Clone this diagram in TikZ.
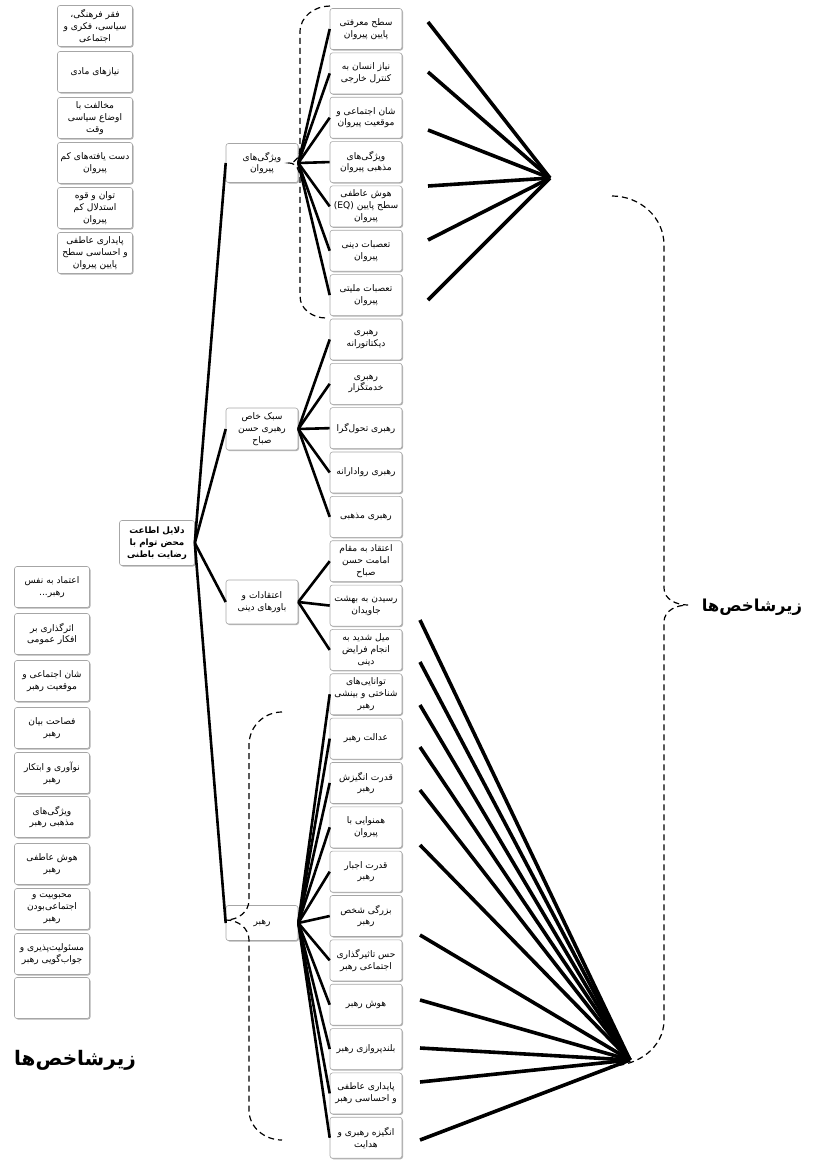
\documentclass[tikz,border=0pt]{standalone}
\usepackage{fontspec}
\usetikzlibrary{shadows}
\newfontfamily\fa[Script=Arabic]{DejaVu Sans}
\TeXXeTstate=1
\newcommand\RL[1]{\beginR #1\endR}
\begin{document}
\begin{tikzpicture}[x=1pt,y=-1pt,
  box/.style={rectangle, rounded corners=2.5pt, draw=gray!70, line width=0.6pt, fill=white,
    minimum width=72pt, minimum height=41pt, align=center, inner sep=1pt,
    font=\fa\fontsize{9.1}{11.8}\selectfont,
    drop shadow={shadow xshift=1pt, shadow yshift=-1pt, fill=gray!60, opacity=1}},
  lbox/.style={box, minimum width=75pt},
  rootbox/.style={box, minimum width=75pt, minimum height=45pt, font=\fa\bfseries\fontsize{8.8}{11.8}\selectfont},
  conn/.style={line width=2.6pt, black},
  fan/.style={line width=3.6pt, black},
  brace/.style={dashed, line width=1.2pt, dash pattern=on 6pt off 4pt},
  lbl/.style={font=\fa\bfseries\fontsize{16.5}{19}\selectfont}
]
\useasboundingbox (0,0) rectangle (816,1160);

% left top column
\node[lbox] (lt1) at (95,26) {\RL{فقر فرهنگی،}\\\RL{سیاسی، فکری و}\\\RL{اجتماعی}};
\node[lbox] (lt2) at (95,72) {\RL{نیازهای مادی}};
\node[lbox] (lt3) at (95,118) {\RL{مخالفت با}\\\RL{اوضاع سیاسی}\\\RL{وقت}};
\node[lbox] (lt4) at (95,163) {\RL{دست یافته‌های کم}\\\RL{پیروان}};
\node[lbox] (lt5) at (95,208) {\RL{توان و قوه}\\\RL{استدلال کم}\\\RL{پیروان}};
\node[lbox] (lt6) at (95,253) {\RL{پایداری عاطفی}\\\RL{و احساسی سطح}\\\RL{پایین پیروان}};

% left bottom column
\node[lbox] (lb1) at (52,587) {\RL{اعتماد به نفس}\\\RL{رهبر...}};
\node[lbox] (lb2) at (52,634) {\RL{اثرگذاری بر}\\\RL{افکار عمومی}};
\node[lbox] (lb3) at (52,681) {\RL{شان اجتماعی و}\\\RL{موقعیت رهبر}};
\node[lbox] (lb4) at (52,728) {\RL{فصاحت بیان}\\\RL{رهبر}};
\node[lbox] (lb5) at (52,773) {\RL{نوآوری و ابتکار}\\\RL{رهبر}};
\node[lbox] (lb6) at (52,817) {\RL{ویژگی‌های}\\\RL{مذهبی رهبر}};
\node[lbox] (lb7) at (52,864) {\RL{هوش عاطفی}\\\RL{رهبر}};
\node[lbox] (lb8) at (52,909) {\RL{محبوبیت و}\\\RL{اجتماعی‌بودن}\\\RL{رهبر}};
\node[lbox] (lb9) at (52,954) {\RL{مسئولیت‌پذیری و}\\\RL{جواب‌گویی رهبر}};
\node[lbox] (lb10) at (52,998) {};

% root and middle nodes
\node[rootbox] (root) at (157,543) {\RL{دلایل اطاعت}\\\RL{محض توام با}\\\RL{رضایت باطنی}};
\node[box, minimum height=39pt] (m1) at (262,163) {\RL{ویژگی‌های}\\\RL{پیروان}};
\node[box, minimum height=42pt] (m2) at (262,429) {\RL{سبک خاص}\\\RL{رهبری حسن}\\\RL{صباح}};
\node[box, minimum height=44pt] (m3) at (262,602) {\RL{اعتقادات و}\\\RL{باورهای دینی}};
\node[box, minimum height=35pt] (m4) at (262,923) {\RL{رهبر}};

% right column
\def\ry#1{29+44.35*#1}
\node[box] (a1) at (366,{\ry{0}}) {\RL{سطح معرفتی}\\\RL{پایین پیروان}};
\node[box] (a2) at (366,{\ry{1}}) {\RL{نیاز انسان به}\\\RL{کنترل خارجی}};
\node[box] (a3) at (366,{\ry{2}}) {\RL{شان اجتماعی و}\\\RL{موقعیت پیروان}};
\node[box] (a4) at (366,{\ry{3}}) {\RL{ویژگی‌های}\\\RL{مذهبی پیروان}};
\node[box] (a5) at (366,{\ry{4}}) {\RL{هوش عاطفی}\\\RL{سطح پایین \beginL(EQ)\endL}\\\RL{پیروان}};
\node[box] (a6) at (366,{\ry{5}}) {\RL{تعصبات دینی}\\\RL{پیروان}};
\node[box] (a7) at (366,{\ry{6}}) {\RL{تعصبات ملیتی}\\\RL{پیروان}};
\node[box] (b1) at (366,{\ry{7}}) {\RL{رهبری}\\\RL{دیکتاتورانه}};
\node[box] (b2) at (366,{\ry{8}}) {\RL{رهبری}\\\RL{خدمتگزار}};
\node[box] (b3) at (366,{\ry{9}}) {\RL{رهبری تحول‌گرا}};
\node[box] (b4) at (366,{\ry{10}}) {\RL{رهبری روادارانه}};
\node[box] (b5) at (366,{\ry{11}}) {\RL{رهبری مذهبی}};
\node[box] (c1) at (366,{\ry{12}}) {\RL{اعتقاد به مقام}\\\RL{امامت حسن}\\\RL{صباح}};
\node[box] (c2) at (366,{\ry{13}}) {\RL{رسیدن به بهشت}\\\RL{جاویدان}};
\node[box] (c3) at (366,{\ry{14}}) {\RL{میل شدید به}\\\RL{انجام فرایض}\\\RL{دینی}};
\node[box] (d1) at (366,{\ry{15}}) {\RL{توانایی‌های}\\\RL{شناختی و بینشی}\\\RL{رهبر}};
\node[box] (d2) at (366,{\ry{16}}) {\RL{عدالت رهبر}};
\node[box] (d3) at (366,{\ry{17}}) {\RL{قدرت انگیزش}\\\RL{رهبر}};
\node[box] (d4) at (366,{\ry{18}}) {\RL{همنوایی با}\\\RL{پیروان}};
\node[box] (d5) at (366,{\ry{19}}) {\RL{قدرت اجبار}\\\RL{رهبر}};
\node[box] (d6) at (366,{\ry{20}}) {\RL{بزرگی شخص}\\\RL{رهبر}};
\node[box] (d7) at (366,{\ry{21}}) {\RL{حس تاثیرگذاری}\\\RL{اجتماعی رهبر}};
\node[box] (d8) at (366,{\ry{22}}) {\RL{هوش رهبر}};
\node[box] (d9) at (366,{\ry{23}}) {\RL{بلندپروازی رهبر}};
\node[box] (d10) at (366,{\ry{24}}) {\RL{پایداری عاطفی}\\\RL{و احساسی رهبر}};
\node[box] (d11) at (366,{\ry{25}}) {\RL{انگیزه رهبری و}\\\RL{هدایت}};

% connectors root -> middle
\foreach \m in {m1,m2,m3,m4} \draw[conn] (root.east) -- (\m.west);
% middle -> right boxes
\foreach \b in {a1,a2,a3,a4,a5,a6,a7} \draw[conn] (m1.east) -- (\b.west);
\foreach \b in {b1,b2,b3,b4,b5} \draw[conn] (m2.east) -- (\b.west);
\foreach \b in {c1,c2,c3} \draw[conn] (m3.east) -- (\b.west);
\foreach \b in {d1,d2,d3,d4,d5,d6,d7,d8,d9,d10,d11} \draw[conn] (m4.east) -- (\b.west);

% fans
\coordinate (ft) at (550,178);
\foreach \i/\y in {1/22,2/72,3/130,4/186,5/240,6/300} \coordinate (ft\i) at (428,\y);
\foreach \i in {1,...,6} \draw[fan] (ft) -- (ft\i);
\coordinate (fb) at (630,1060);
\foreach \i/\y in {1/620,2/662,3/705,4/747,5/790,6/845,7/935,8/1000,9/1048,10/1082,11/1140} \coordinate (fb\i) at (420,\y);
\foreach \i in {1,...,11} \draw[fan] (fb) -- (fb\i);

% dashed braces
\draw[brace] (330,6) to[out=180,in=90] (300,32) -- (300,148) to[out=-90,in=0] (289,163) to[out=0,in=90] (300,178) -- (300,296) to[out=-90,in=180] (326,318);
\draw[brace] (282,712) to[out=180,in=90] (249,745) -- (249,900) to[out=-90,in=0] (226,920) to[out=0,in=90] (249,940) -- (249,1110) to[out=-90,in=180] (282,1140);
\draw[brace] (612,196) to[out=0,in=90] (664,245) -- (664,588) to[out=-90,in=180] (688,605) to[out=180,in=90] (664,622) -- (664,1020) to[out=-90,in=0] (610,1066);

% labels
\node[lbl] (lab1) at (752,607) {\RL{زیرشاخص‌ها}};
\node[lbl, font=\fa\bfseries\fontsize{20}{23}\selectfont] (lab2) at (75,1060) {\RL{زیرشاخص‌ها}};
\end{tikzpicture}
\end{document}
